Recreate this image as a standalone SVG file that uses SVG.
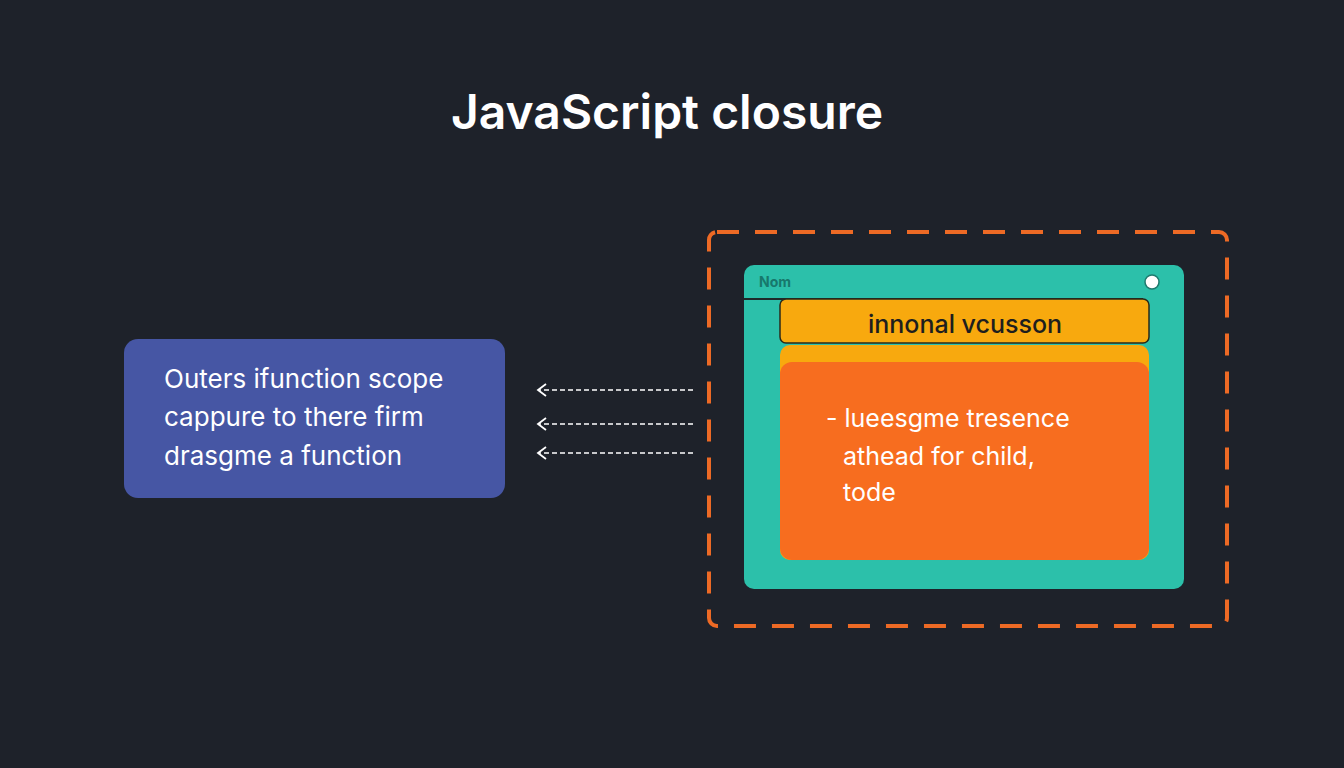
<svg xmlns="http://www.w3.org/2000/svg" width="1344" height="768" viewBox="0 0 1344 768">
<defs>
<style>
.t{font-family:"Inter","Liberation Sans",sans-serif}
.w{fill:#ffffff}
.c{stroke:#ffffff;stroke-width:1.6;stroke-dasharray:5 3;fill:none}
</style>
<marker id="a" markerWidth="12" markerHeight="14" refX="10" refY="7" orient="auto" markerUnits="userSpaceOnUse">
<path d="M2,1 L10,7 L2,13" fill="none" stroke="#fff" stroke-width="1.8"/>
</marker>
</defs>
<rect width="1344" height="768" fill="#1e222a"/>
<text class="t w" x="667" y="129" font-size="48" font-weight="600" text-anchor="middle">JavaScript closure</text>
<g id="outer">
<rect x="124" y="339" width="381" height="159" rx="14" fill="#4656a4"/>
<text class="t w" font-size="26"><tspan x="164" y="388">Outers ifunction scope</tspan><tspan x="164" y="426">cappure to there firm</tspan><tspan x="164" y="465">drasgme a function</tspan></text>
</g>
<g id="connectors">
<line class="c" x1="693" y1="390" x2="538" y2="390" marker-end="url(#a)"/>
<line class="c" x1="693" y1="424" x2="538" y2="424" marker-end="url(#a)"/>
<line class="c" x1="693" y1="453" x2="538" y2="453" marker-end="url(#a)"/>
</g>
<g id="closure">
<rect x="709" y="232" width="518" height="394" rx="8" fill="none" stroke="#ed6a25" stroke-width="4" stroke-dasharray="22 16"/>
<rect x="744" y="265" width="440" height="324" rx="10" fill="#2cc0aa"/>
<text class="t" x="759" y="287" font-size="14" font-weight="700" fill="#17786c">Nom</text>
<circle cx="1152" cy="282" r="7" fill="#fff" stroke="#1f7a6f" stroke-width="1.5"/>
<line x1="744" y1="299" x2="1143" y2="299" stroke="#1e2a2a" stroke-width="2"/>
<rect x="780" y="345" width="369" height="215" rx="10" fill="#f8a90e"/>
<rect x="780" y="362" width="369" height="198" rx="12" fill="#f76d1f"/>
<rect x="780" y="299" width="369" height="44" rx="6" fill="#f8a90e" stroke="#2a2a1a" stroke-width="1.5"/>
<text class="t" x="965" y="333" font-size="25" font-weight="500" fill="#1e1e1e" text-anchor="middle">innonal vcusson</text>
<text class="t w" font-size="25"><tspan x="826" y="427">- lueesgme tresence</tspan><tspan x="843" y="465">athead for child,</tspan><tspan x="843" y="501">tode</tspan></text>
</g>
</svg>
